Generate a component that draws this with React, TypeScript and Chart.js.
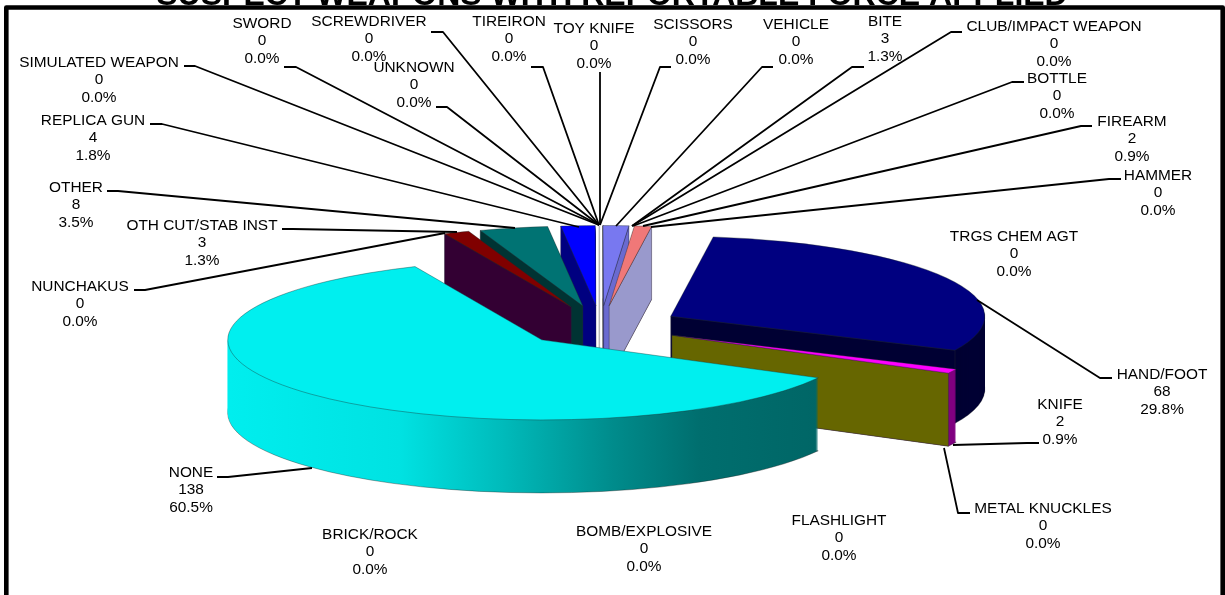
import React, { useEffect, useRef } from "react";
import { Chart, registerables } from "chart.js";

Chart.register(...registerables);

const TITLE = "SUSPECT WEAPONS WITH REPORTABLE FORCE APPLIED";
const categories = [
  "NONE", "NUNCHAKUS", "OTH CUT/STAB INST", "OTHER", "REPLICA GUN", "SIMULATED WEAPON", "SWORD", "SCREWDRIVER",
  "UNKNOWN", "TIREIRON", "TOY KNIFE", "SCISSORS", "VEHICLE", "BITE", "CLUB/IMPACT WEAPON", "BOTTLE", "FIREARM",
  "HAMMER", "TRGS CHEM AGT", "HAND/FOOT", "KNIFE", "METAL KNUCKLES", "FLASHLIGHT", "BOMB/EXPLOSIVE", "BRICK/ROCK",
];
const values = [138, 0, 3, 8, 4, 0, 0, 0, 0, 0, 0, 0, 0, 3, 0, 0, 2, 0, 0, 68, 2, 0, 0, 0, 0];

// top face colours by category
const topColors = [
  "#00efef", "#800080", "#800000", "#007373", "#0000ff", "#999", "#999", "#999", "#999", "#999", "#999", "#999", "#999",
  "#7878f0", "#999", "#999", "#f07878", "#999", "#999", "#000080", "#ff00ff", "#999", "#999", "#999", "#999",
];
// outer wall colours by category
const rimColors: Record<string, string> = {
  "OTH CUT/STAB INST": "#400000", OTHER: "#003333", "REPLICA GUN": "#000080", BITE: "#404080",
  FIREARM: "#804040", "HAND/FOOT": "#000033", KNIFE: "#800080",
};
// cut wall colours, by category
const faceColors: Record<string, string> = {
  "OTH CUT/STAB INST": "#330033", OTHER: "#003333", "REPLICA GUN": "#000080", BITE: "#6a6ad0",
  FIREARM: "#9999cc", "HAND/FOOT": "#000033", KNIFE: "#666600",
};
const rimStops: [number, string][] = [
  [229, "#00eeee"], [400, "#00e2e2"], [500, "#00bcbc"], [612, "#008c8c"], [700, "#006e6e"], [820, "#006666"],
];
const stripeColors = ["#ffffff", "#b8b8b8", "#ffffff", "#9a9a9a"];

// label centre (x, first line y) and leader polyline, per category
const labelLayout: Record<string, { x: number; y: number; line: number[][] }> = {
  NONE: { x: 191, y: 472, line: [[217, 477], [228, 477], [312, 468]] },
  NUNCHAKUS: { x: 80, y: 286, line: [[134, 290], [145, 290], [445, 233]] },
  "OTH CUT/STAB INST": { x: 202, y: 225, line: [[282, 229], [293, 229], [457, 232]] },
  OTHER: { x: 76, y: 187, line: [[107, 191], [118, 191], [515, 228]] },
  "REPLICA GUN": { x: 93, y: 120, line: [[150, 124], [162, 124], [579, 227]] },
  "SIMULATED WEAPON": { x: 99, y: 62, line: [[184, 66], [195, 66], [599, 225]] },
  SWORD: { x: 262, y: 23, line: [[284, 67], [296, 67], [599, 225]] },
  SCREWDRIVER: { x: 369, y: 21, line: [[431, 32], [443, 32], [599, 225]] },
  UNKNOWN: { x: 414, y: 67, line: [[436, 107], [447, 107], [599, 225]] },
  TIREIRON: { x: 509, y: 21, line: [[531, 67], [543, 67], [599, 225]] },
  "TOY KNIFE": { x: 594, y: 28, line: [[600, 72], [600, 225]] },
  SCISSORS: { x: 693, y: 24, line: [[671, 67], [660, 67], [600, 225]] },
  VEHICLE: { x: 796, y: 24, line: [[773, 67], [762, 67], [616, 226]] },
  BITE: { x: 885, y: 21, line: [[864, 67], [852, 67], [632, 226]] },
  "CLUB/IMPACT WEAPON": { x: 1054, y: 26, line: [[962, 32], [951, 32], [632, 226]] },
  BOTTLE: { x: 1057, y: 78, line: [[1024, 82], [1012, 82], [633, 226]] },
  FIREARM: { x: 1132, y: 121, line: [[1092, 126], [1081, 126], [643, 226]] },
  HAMMER: { x: 1158, y: 175, line: [[1121, 179], [1109, 179], [651, 227]] },
  "TRGS CHEM AGT": { x: 1014, y: 236, line: [] },
  "HAND/FOOT": { x: 1162, y: 374, line: [[1112, 378], [1100, 378], [977, 300]] },
  KNIFE: { x: 1060, y: 404, line: [[1039, 443], [1027, 443], [953, 445]] },
  "METAL KNUCKLES": { x: 1043, y: 508, line: [[970, 513], [958, 513], [944, 448]] },
  FLASHLIGHT: { x: 839, y: 520, line: [] },
  "BOMB/EXPLOSIVE": { x: 644, y: 531, line: [] },
  "BRICK/ROCK": { x: 370, y: 534, line: [] },
};

const RADIUS = 314;
const SQUASH = 0.255;
const DEPTH = 73;
const EXPLODE = 80;
const LABEL_FONT = '15.4px "Liberation Sans", Arial, sans-serif';
const LINE_HEIGHT = 17.5;

const pie3d = {
  id: "pie3d",
  beforeDatasetsDraw(chart: any) {
    const ctx: CanvasRenderingContext2D = chart.ctx;
    const arcs: any[] = chart.getDatasetMeta(0).data;
    const items = arcs.map((arc, i) => {
      const p = arc.getProps(["x", "y", "startAngle", "endAngle"], true);
      const mid = (p.startAngle + p.endAngle) / 2;
      return { arc, i, name: categories[i], ...p, mid };
    });
    const apexOf = (it: any) => ({
      x: it.x + Math.cos(it.mid) * EXPLODE,
      y: it.y + Math.sin(it.mid) * EXPLODE * SQUASH,
    });
    const drawArc = (it: any, dy: number, fill: any, border: number, borderColor: string) => {
      const a = apexOf(it);
      const saved = it.arc.options;
      it.arc.options = { ...saved, backgroundColor: fill, borderWidth: border, borderColor };
      ctx.save();
      ctx.translate(a.x, a.y + dy);
      ctx.scale(1, SQUASH);
      ctx.translate(-it.x, -it.y);
      it.arc.draw(ctx);
      ctx.restore();
      it.arc.options = saved;
    };
    const drawFace = (it: any, angle: number, color: string) => {
      const a = apexOf(it);
      const rx = a.x + Math.cos(angle) * RADIUS;
      const ry = a.y + Math.sin(angle) * RADIUS * SQUASH;
      ctx.fillStyle = color;
      ctx.strokeStyle = "rgba(40,40,60,0.55)";
      ctx.lineWidth = 0.7;
      ctx.beginPath();
      ctx.moveTo(a.x, a.y);
      ctx.lineTo(rx, ry);
      ctx.lineTo(rx, ry + DEPTH);
      ctx.lineTo(a.x, a.y + DEPTH);
      ctx.closePath();
      ctx.fill();
      ctx.stroke();
    };

    // the zero-value categories between REPLICA GUN and BITE stand edge-on
    const zero = items.find((it) => it.name === "SWORD");
    if (zero) {
      const a = apexOf(zero);
      const top = a.y - RADIUS * SQUASH;
      stripeColors.forEach((c, k) => {
        ctx.fillStyle = c;
        ctx.fillRect(a.x - 3.5 + k * 1.75, top, 1.75, RADIUS * SQUASH + DEPTH);
      });
    }

    const solid = items.filter((it) => values[it.i] > 0);
    solid.sort((p, q) => Math.sin(p.mid) - Math.sin(q.mid));
    for (const it of solid) {
      let rim: any = rimColors[it.name];
      if (!rim) {
        const off = Math.cos(it.mid) * EXPLODE;
        const g = ctx.createLinearGradient(rimStops[0][0] - off, 0, rimStops[rimStops.length - 1][0] - off, 0);
        const span = rimStops[rimStops.length - 1][0] - rimStops[0][0];
        rimStops.forEach(([x, c]) => g.addColorStop((x - rimStops[0][0]) / span, c));
        rim = g;
      }
      for (let d = DEPTH; d >= 1; d--) {
        drawArc(it, d, rim, d === DEPTH ? 1 : 0, "rgba(30,30,30,0.6)");
      }
      const face = faceColors[it.name];
      if (face) {
        if (Math.cos(it.startAngle) < -1e-6) drawFace(it, it.startAngle, face);
        if (Math.cos(it.endAngle) > 1e-6) drawFace(it, it.endAngle, face);
      }
      drawArc(it, 0, topColors[it.i], 1, "rgba(30,40,40,0.6)");
    }
    return false;
  },
  afterDraw(chart: any) {
    const ctx: CanvasRenderingContext2D = chart.ctx;
    const total = values.reduce((s, v) => s + v, 0);
    ctx.save();
    // leader lines
    ctx.strokeStyle = "#000";
    ctx.lineWidth = 1.8;
    ctx.lineJoin = "round";
    categories.forEach((name) => {
      const pts = labelLayout[name].line;
      if (!pts.length) return;
      ctx.beginPath();
      pts.forEach(([x, y], k) => (k ? ctx.lineTo(x, y) : ctx.moveTo(x, y)));
      ctx.stroke();
    });
    // labels
    ctx.fillStyle = "#000";
    ctx.font = LABEL_FONT;
    ctx.textAlign = "center";
    ctx.textBaseline = "middle";
    categories.forEach((name, i) => {
      const { x, y } = labelLayout[name];
      const lines = [name, String(values[i]), ((values[i] / total) * 100).toFixed(1) + "%"];
      lines.forEach((t, k) => ctx.fillText(t, x, y + 0.5 + k * LINE_HEIGHT));
    });
    // frame
    ctx.strokeStyle = "#000";
    ctx.lineWidth = 4.6;
    ctx.strokeRect(6.3, 7.5, 1216.4, 640);
    // title
    ctx.font = 'bold 32px "Liberation Sans", Arial, sans-serif';
    ctx.textBaseline = "alphabetic";
    ctx.fillText(TITLE, 612, 5);
    ctx.restore();
  },
};

export default function App() {
  const ref = useRef<HTMLCanvasElement>(null);
  useEffect(() => {
    const chart = new Chart(ref.current as HTMLCanvasElement, {
      type: "pie",
      data: {
        labels: categories,
        datasets: [{ data: values, backgroundColor: topColors, radius: RADIUS, borderWidth: 0 } as any],
      },
      options: {
        animation: false,
        responsive: false,
        rotation: 118.3,
        layout: { padding: { right: 24, top: 57 } },
        plugins: { legend: { display: false }, tooltip: { enabled: false } },
      },
      plugins: [pie3d as any],
    });
    return () => chart.destroy();
  }, []);
  return (
    <canvas
      ref={ref}
      width={1225}
      height={595}
      style={{ position: "fixed", left: 0, top: 0, width: 1225, height: 595, background: "#fff" }}
    />
  );
}
